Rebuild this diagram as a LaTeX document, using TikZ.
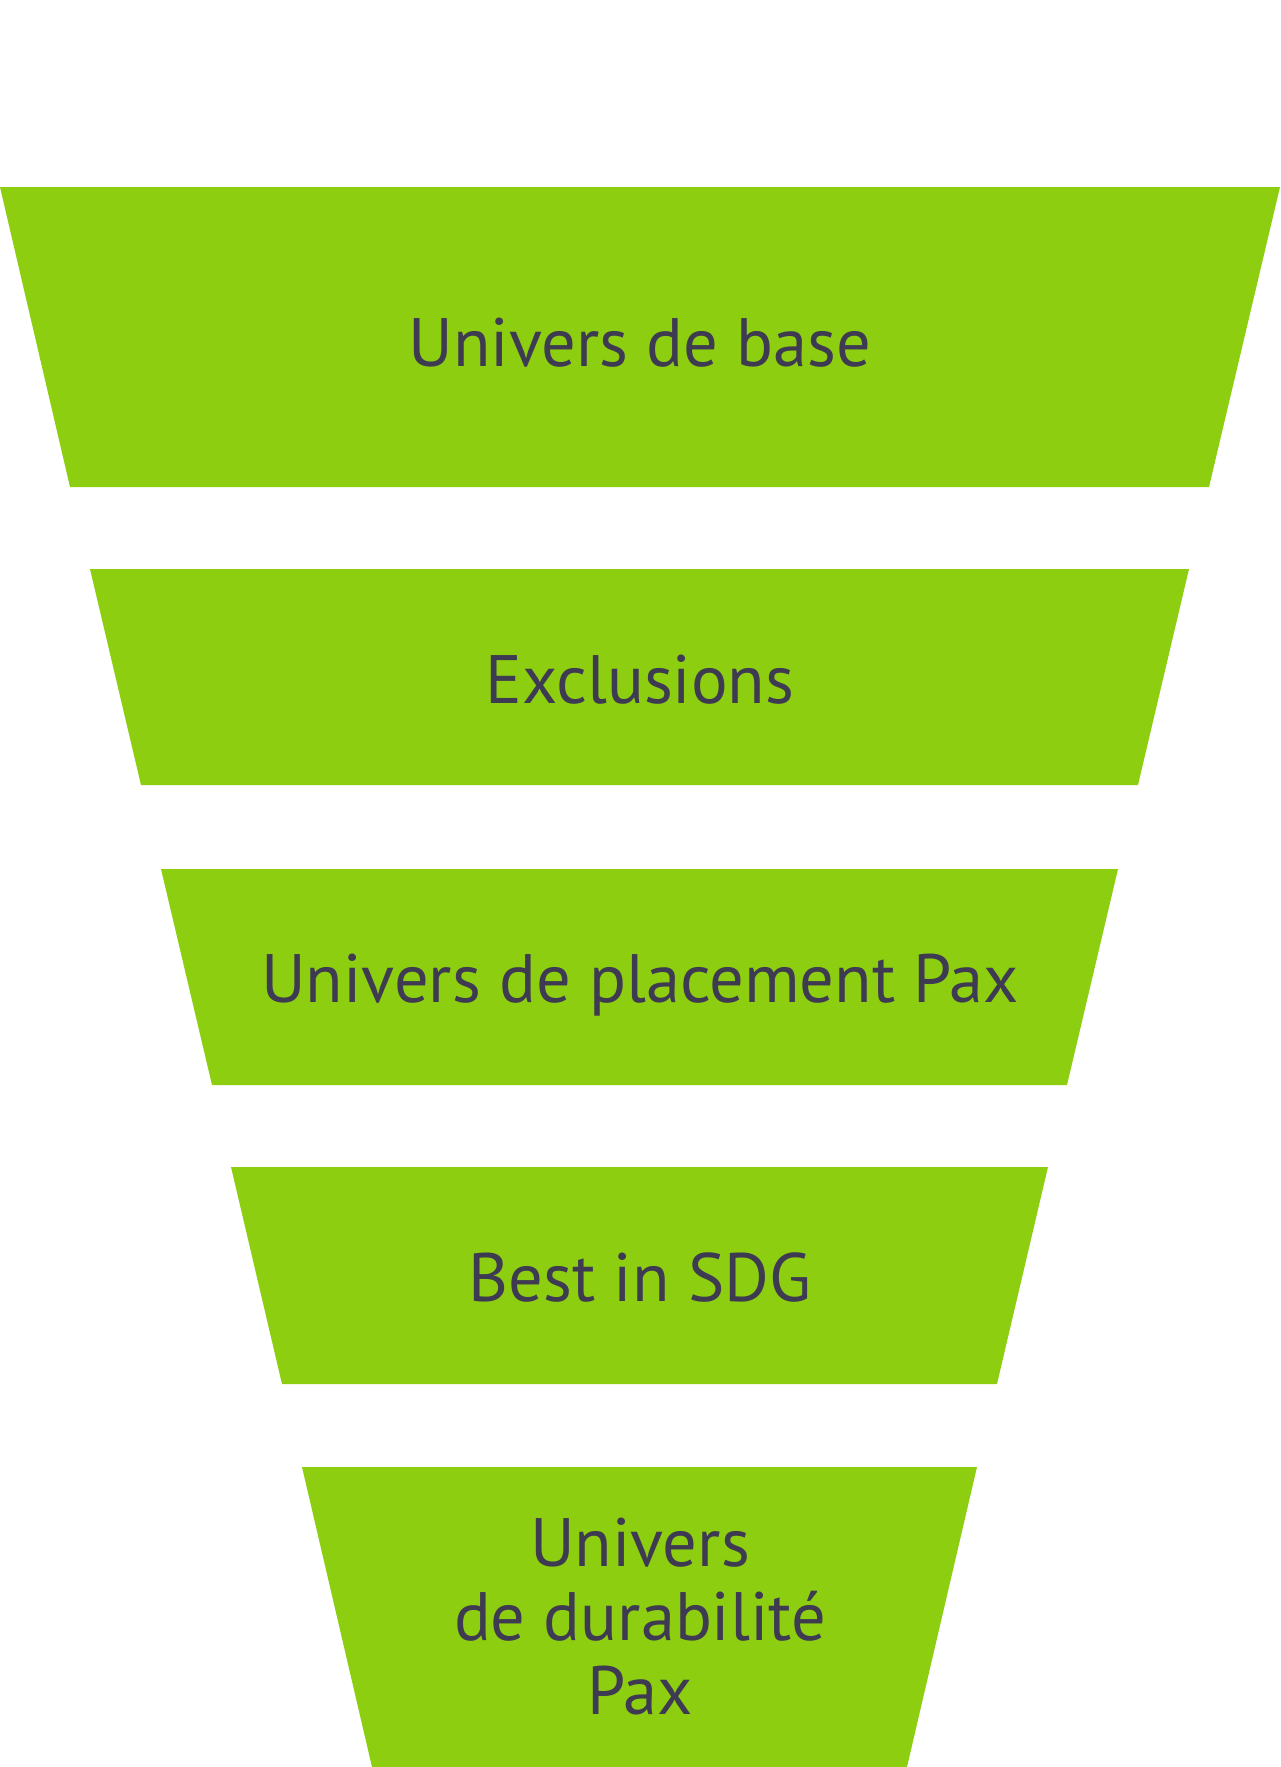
\documentclass[tikz,border=0pt]{standalone}
\usepackage{fontspec}
\setmainfont{PT Sans}
\definecolor{funnelgreen}{HTML}{8DCE10}
\definecolor{funneltext}{HTML}{3D3A52}
\tikzset{
	level/.style={fill=funnelgreen},
	lbl/.style={text=funneltext, font=\fontsize{68.5}{73.7}\selectfont, inner sep=0pt, anchor=base, align=center}
}
\begin{document}
\begin{tikzpicture}[x=1pt,y=-1pt]
		\useasboundingbox (0,0) rectangle (1280,1767);
		\fill[level] (0,187) -- (1280,187) -- (1209,487) -- (70,487) -- cycle;
		\fill[level] (90,569) -- (1189,569) -- (1138,785) -- (141,785) -- cycle;
		\fill[level] (161,869) -- (1118,869) -- (1067,1085) -- (212,1085) -- cycle;
		\fill[level] (231,1167) -- (1048,1167) -- (997,1384) -- (282,1384) -- cycle;
		\fill[level] (302,1467) -- (977,1467) -- (907,1767) -- (372,1767) -- cycle;
		\node[lbl] (base) at (640,366) {Univers de base};
		\node[lbl] (exclusions) at (640,703) {Exclusions};
		\node[lbl] (placement) at (640,1002) {Univers de placement Pax};
		\node[lbl] (sdg) at (640,1301) {Best in SDG};
		\node[lbl] (durabilite) at (640,1714) {Univers\\de durabilité\\Pax};
	\end{tikzpicture}
\end{document}
